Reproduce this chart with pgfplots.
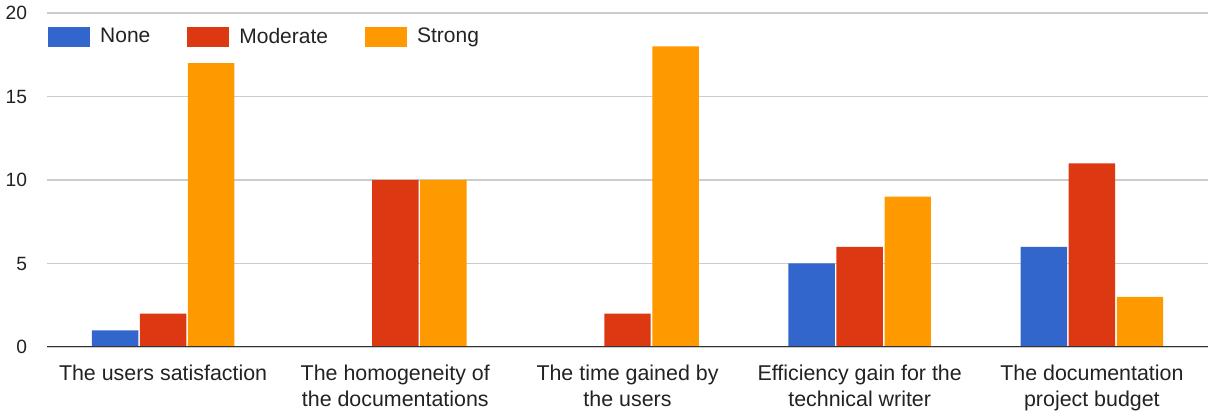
\documentclass[border=0pt]{standalone}
\usepackage{pgfplots}
\pgfplotsset{compat=1.18}
\usepackage{fontspec}
\setmainfont{Liberation Sans}
\definecolor{gblue}{HTML}{3366CC}
\definecolor{gred}{HTML}{DC3912}
\definecolor{gorange}{HTML}{FF9900}
\definecolor{gridc}{HTML}{CCCCCC}
\definecolor{txt}{HTML}{222222}
\begin{document}
\begin{tikzpicture}
\path[use as bounding box] (-23.5pt,-34.5pt) rectangle (580.5pt,173.5pt);
\begin{axis}[
  scale only axis,
  width=580.5pt, height=167pt,
  xmin=-0.5, xmax=4.5, ymin=0, ymax=20,
  ytick={0,5,10,15,20},
  xtick={0,1,2,3,4},
  xticklabels={{The users satisfaction},{The homogeneity of\\the documentations},{The time gained by\\the users},{Efficiency gain for the\\technical writer},{The documentation\\project budget}},
  xticklabel style={align=center, font=\fontsize{10.7}{13}\selectfont, text=txt, yshift=-5.5pt},
  yticklabel style={font=\fontsize{9.6}{11}\selectfont, text=txt, xshift=-6.5pt},
  /pgf/number format/assume math mode=true,
  major tick length=0pt,
  axis line style={draw=none},
  ymajorgrids, grid style={gridc, line width=0.6pt},
  bar width=0.2,
  legend style={at={(0.001,0.967)}, anchor=north west, draw=none, fill=none,
    legend columns=3, font=\fontsize{10.5}{12}\selectfont, text=txt,
    /tikz/every even column/.append style={column sep=16.5pt},
    inner sep=0pt, outer sep=0pt},
  legend image code/.code={\fill[#1] (0pt,-5pt) rectangle (21pt,5pt); \path (24pt,0pt);},
  legend cell align=left,
]
\addplot[ybar, fill=gblue, draw=none, bar shift=-0.207] coordinates {(0,1) (1,0) (2,0) (3,5) (4,6)};
\addplot[ybar, fill=gred, draw=none, bar shift=0] coordinates {(0,2) (1,10) (2,2) (3,6) (4,11)};
\addplot[ybar, fill=gorange, draw=none, bar shift=0.207] coordinates {(0,17) (1,10) (2,18) (3,9) (4,3)};
\legend{None,Moderate,Strong}
\draw[color=black!80, line width=1pt] (axis cs:-0.5,0) -- (axis cs:4.5,0);
\end{axis}
\end{tikzpicture}
\end{document}
